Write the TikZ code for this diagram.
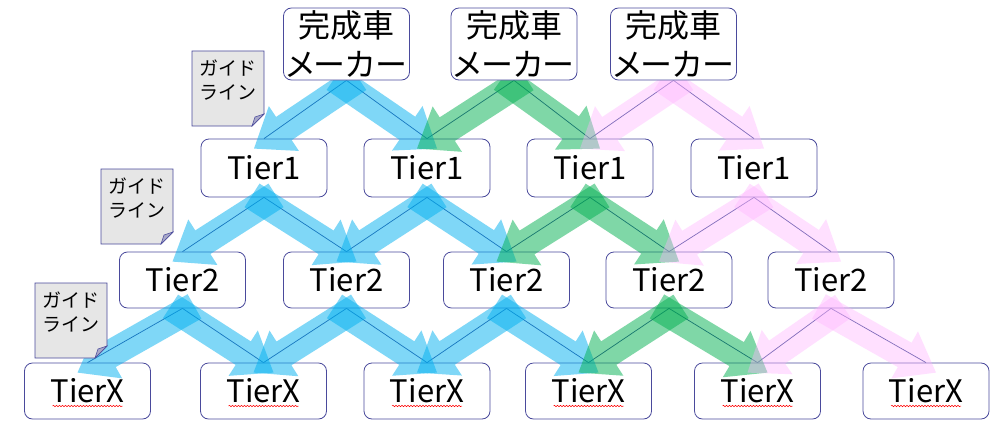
\documentclass[tikz,border=0pt]{standalone}
\usepackage{fontspec}
\setmainfont{Noto Sans CJK JP}
\newfontfamily\jpp{Noto Sans CJK JP}[RawFeature=+palt]
\usetikzlibrary{calc,decorations.pathmorphing}
\definecolor{edgecol}{HTML}{4A4A9C}
\definecolor{conncol}{HTML}{2F3E8E}
\definecolor{abl}{HTML}{00B0F0}
\definecolor{agr}{HTML}{00B050}
\definecolor{apk}{HTML}{FFB3FF}
\definecolor{notefill}{HTML}{E6E6E6}
\definecolor{foldcol}{HTML}{A8A8C8}
\pgfdeclarelayer{bg}
\pgfdeclarelayer{fg}
\pgfsetlayers{bg,main,fg}
\tikzset{
  tbox/.style={draw=edgecol, line width=0.8pt, fill=white, rounded corners=8pt,
    minimum width=126pt, minimum height=56pt, inner sep=0pt,
    font=\fontsize{31}{36}\selectfont},
  mbox/.style={tbox, minimum height=72pt, align=center,
    font=\jpp\fontsize{32}{39}\selectfont},
  connline/.style={draw=conncol, line width=0.7pt},
  arrblue/.style={fill=abl, fill opacity=0.5},
  arrgreen/.style={fill=agr, fill opacity=0.5},
  arrpink/.style={fill=apk, fill opacity=0.4},
  notestyle/.style={draw=edgecol, line width=0.8pt, fill=notefill},
  foldstyle/.style={draw=edgecol, line width=0.5pt, fill=foldcol},
  notetext/.style={align=center, inner sep=0pt, font=\fontsize{19}{24}\selectfont},
  squig/.style={draw=red, line width=0.5pt, decorate,
    decoration={snake, amplitude=0.7pt, segment length=3pt}}
}
% #1 style, #2 parent, #3 child, #4 side (-1 left, +1 right)
\newcommand\bandarrow[4]{%
  \path ($(#2.south)+({-12*(#4)},-2)$) coordinate (ba-s)
        ($(#3.north)+({10*(#4)},10)$) coordinate (ba-t);
  \path ($(ba-t)!36pt!(ba-s)$) coordinate (ba-c);
  \fill[#1] ($(ba-s)!14pt!90:(ba-t)$) -- ($(ba-c)!14pt!-90:(ba-s)$)
    -- ($(ba-c)!27pt!-90:(ba-s)$) -- (ba-t) -- ($(ba-c)!27pt!90:(ba-s)$)
    -- ($(ba-c)!14pt!90:(ba-s)$) -- ($(ba-s)!14pt!-90:(ba-t)$) -- cycle;
}
\newcommand\guidenote[3]{%
  \draw[notestyle] (#2,#3) -- ++(72,0) -- ++(0,63) -- ++(-12,12) -- ++(-60,0) -- cycle;
  \draw[foldstyle] ({#2+60},{#3+75}) -- ({#2+72},{#3+63}) -- ({#2+63},{#3+66}) -- cycle;
  \node[notetext] (#1) at ({#2+36},{#3+29}) {ガイド\\ライン};
}
\begin{document}
\begin{tikzpicture}[x=1pt,y=-1pt]
\useasboundingbox (0,0) rectangle (1000,420);
\begin{pgfonlayer}{fg}
  \node[mbox] (m1) at (346.5,44) {完成車\\メーカー};
  \node[mbox] (m2) at (514,44) {完成車\\メーカー};
  \node[mbox] (m3) at (673.5,44) {完成車\\メーカー};
  \guidenote{g1}{192}{51}
  \guidenote{g2}{101}{169}
  \guidenote{g3}{35}{283}
\end{pgfonlayer}
\begin{pgfonlayer}{bg}
  \fill[white] (0,0) rectangle (1000,420);
  \node[tbox, minimum height=58pt] (t1a) at (264,168) {Tier1};
  \node[tbox, minimum height=58pt] (t1b) at (427,168) {Tier1};
  \node[tbox, minimum height=58pt] (t1c) at (590,168) {Tier1};
  \node[tbox, minimum height=58pt] (t1d) at (754,168) {Tier1};
  \node[tbox] (t2a) at (182.5,280) {Tier2};
  \node[tbox] (t2b) at (346.5,280) {Tier2};
  \node[tbox] (t2c) at (506.5,280) {Tier2};
  \node[tbox] (t2d) at (669,280) {Tier2};
  \node[tbox] (t2e) at (831,280) {Tier2};
  \foreach \n/\x in {xa/87.5, xb/263.5, xc/427, xd/588.5, xe/757.5, xf/926} {
    \node[tbox] (\n) at (\x,391) {TierX};
    \draw[squig] ($(\n.center)+(-35,15)$) -- ($(\n.center)+(35,15)$);
  }
  \foreach \p/\c in {m1/t1a, m1/t1b, m2/t1b, m2/t1c, m3/t1c, m3/t1d,
      t1a/t2a, t1a/t2b, t1b/t2b, t1b/t2c, t1c/t2c, t1c/t2d, t1d/t2d, t1d/t2e,
      t2a/xa, t2a/xb, t2b/xb, t2b/xc, t2c/xc, t2c/xd, t2d/xd, t2d/xe, t2e/xe, t2e/xf}
    \draw[connline] (\p.south) -- (\c.north);
\end{pgfonlayer}
% blue
\bandarrow{arrblue}{m1}{t1a}{-1}
\bandarrow{arrblue}{m1}{t1b}{1}
\bandarrow{arrblue}{t1a}{t2a}{-1}
\bandarrow{arrblue}{t1a}{t2b}{1}
\bandarrow{arrblue}{t1b}{t2b}{-1}
\bandarrow{arrblue}{t1b}{t2c}{1}
\bandarrow{arrblue}{t2a}{xa}{-1}
\bandarrow{arrblue}{t2a}{xb}{1}
\bandarrow{arrblue}{t2b}{xb}{-1}
\bandarrow{arrblue}{t2b}{xc}{1}
\bandarrow{arrblue}{t2c}{xc}{-1}
\bandarrow{arrblue}{t2c}{xd}{1}
% green
\bandarrow{arrgreen}{m2}{t1b}{-1}
\bandarrow{arrgreen}{m2}{t1c}{1}
\bandarrow{arrgreen}{t1c}{t2c}{-1}
\bandarrow{arrgreen}{t1c}{t2d}{1}
\bandarrow{arrgreen}{t2d}{xd}{-1}
\bandarrow{arrgreen}{t2d}{xe}{1}
% pink
\bandarrow{arrpink}{m3}{t1c}{-1}
\bandarrow{arrpink}{m3}{t1d}{1}
\bandarrow{arrpink}{t1d}{t2d}{-1}
\bandarrow{arrpink}{t1d}{t2e}{1}
\bandarrow{arrpink}{t2e}{xe}{-1}
\bandarrow{arrpink}{t2e}{xf}{1}
\end{tikzpicture}
\end{document}
